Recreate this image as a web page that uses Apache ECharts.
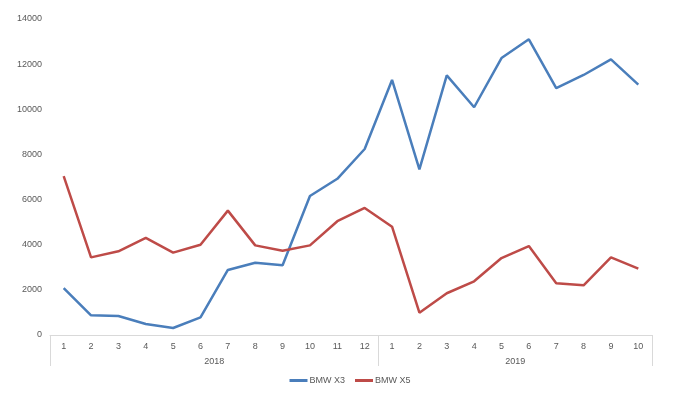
<!DOCTYPE html>
<html>
<head>
<meta charset="utf-8">
<script src="https://cdn.jsdelivr.net/npm/echarts@6/dist/echarts.min.js"></script>
<style>html,body{margin:0;padding:0;background:#fff;}#c{width:700px;height:412px;}</style>
</head>
<body>
<div id="c"></div>
<script>
var months = ['1','2','3','4','5','6','7','8','9','10','11','12','1','2','3','4','5','6','7','8','9','10'];
var years = ['2018', '2019'];
var yearStarts = [0, 12, 22];
var yearCenters = [6, 17];
var seriesNames = ['BMW X3', 'BMW X5'];
var x3 = [2080, 870, 840, 490, 310, 780, 2880, 3200, 3090, 6160, 6920, 8240,
          11300, 7340, 11500, 10090, 12270, 13100, 10940, 11520, 12210, 11090];
var x5 = [7040, 3440, 3710, 4300, 3650, 4000, 5510, 3970, 3730, 3970, 5040, 5630,
          4800, 990, 1850, 2380, 3410, 3940, 2290, 2200, 3440, 2940];
var yTicks = {min: 0, max: 14000, interval: 2000};

var font = 'Liberation Sans';
var txt = '#595959';
var chart = echarts.init(document.getElementById('c'));
chart.setOption({
  animation: false,
  grid: {left: 50, right: 48, top: 19, bottom: 77},
  legend: {
    bottom: 22, left: 'center',
    data: seriesNames,
    icon: 'rect', itemWidth: 18, itemHeight: 3, itemGap: 10,
    textStyle: {fontFamily: font, fontSize: 9, color: txt, padding: [0,0,0,-3]}
  },
  xAxis: [{
    type: 'category', data: months, boundaryGap: true,
    axisLine: {lineStyle: {color: '#d9d9d9', width: 1}},
    axisTick: {show: false},
    axisLabel: {interval: 0, fontFamily: font, fontSize: 9, color: txt, margin: 7}
  }, {
    type: 'value', min: 0, max: 22, position: 'bottom',
    axisLine: {show: false},
    splitLine: {show: false},
    axisTick: {show: true, customValues: yearStarts, length: 31, lineStyle: {color: '#d9d9d9'}},
    axisLabel: {customValues: yearCenters, margin: 22, fontFamily: font, fontSize: 9, color: txt,
      formatter: function (v) { return years[yearCenters.indexOf(v)]; }}
  }],
  yAxis: {
    type: 'value', min: yTicks.min, max: yTicks.max, interval: yTicks.interval,
    axisLine: {show: false}, axisTick: {show: false},
    splitLine: {show: false},
    axisLabel: {fontFamily: font, fontSize: 9, color: txt, margin: 8,
      formatter: function (v) { return String(v); }}
  },
  series: [{
    name: seriesNames[0], type: 'line', data: x3, xAxisIndex: 0,
    symbol: 'none', lineStyle: {width: 2.5, color: '#4A7EBB'}, itemStyle: {color: '#4A7EBB'}
  }, {
    name: seriesNames[1], type: 'line', data: x5, xAxisIndex: 0,
    symbol: 'none', lineStyle: {width: 2.5, color: '#BE4B48'}, itemStyle: {color: '#BE4B48'}
  }]
});
</script>
</body>
</html>
